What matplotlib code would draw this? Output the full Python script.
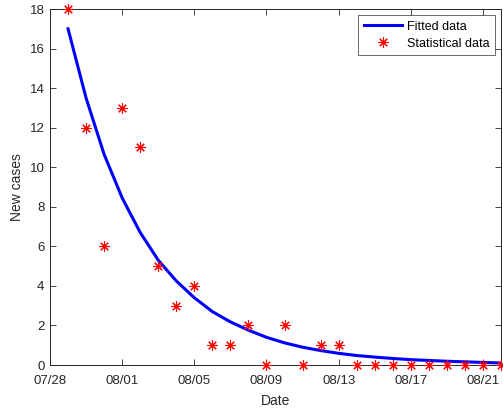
import numpy as np
import matplotlib
matplotlib.use("Agg")
import matplotlib.pyplot as plt
import matplotlib.dates as mdates
import datetime as dt

# ---- data ----
start_date = dt.date(2020, 7, 29)
n_days = 25
dates = [start_date + dt.timedelta(days=i) for i in range(n_days)]
statistical = [18, 12, 6, 13, 11, 5, 3, 4, 1, 1, 2, 0, 2, 0, 1, 1,
               0, 0, 0, 0, 0, 0, 0, 0, 0]
fitted = [17.0, 13.5, 10.65, 8.45, 6.7, 5.3, 4.25, 3.4, 2.7, 2.18, 1.76,
          1.4, 1.12, 0.9, 0.73, 0.59, 0.48, 0.4, 0.33, 0.27, 0.23, 0.19,
          0.16, 0.13, 0.1]
tick_dates = [dt.date(2020, 7, 28) + dt.timedelta(days=4 * k) for k in range(7)]
y_ticks = list(range(0, 19, 2))

plt.rcParams['font.family'] = ['Liberation Sans', 'DejaVu Sans']
axc = (0.15, 0.15, 0.15)

fig = plt.figure(figsize=(5.03, 4.15), dpi=100)
ax = fig.add_axes([50 / 503, 50 / 415, 451 / 503, 356 / 415])

ax.plot(dates, fitted, color=(0, 0, 1), lw=2.2, label='Fitted data', zorder=3)
ax.plot(dates, statistical, linestyle='none', marker=(8, 2, 0), markersize=7.5,
        markeredgewidth=0.8, color='red', label='Statistical data',
        clip_on=False, zorder=4)

ax.set_xlim(dt.date(2020, 7, 28), dt.date(2020, 8, 22))
ax.set_ylim(0, 18)
ax.set_xticks(tick_dates)
ax.xaxis.set_major_formatter(mdates.DateFormatter('%m/%d'))
ax.set_yticks(y_ticks)

ax.tick_params(direction='in', length=4, width=0.6, colors=axc,
               labelsize=9.5, top=True, right=True, labelcolor=axc)
ax.tick_params(axis='x', pad=7)
ax.tick_params(axis='y', pad=4)
for s in ax.spines.values():
    s.set_color(axc)
    s.set_linewidth(0.7)

ax.set_xlabel('Date', fontsize=10, color=axc, labelpad=5)
ax.set_ylabel('New cases', fontsize=10, color=axc, labelpad=4)

leg = ax.legend(loc='upper right', fontsize=9, frameon=True, fancybox=False,
                borderaxespad=0.5, handlelength=3.0, borderpad=0.45,
                labelspacing=0.4, handletextpad=0.4)
leg.get_frame().set_edgecolor(axc)
leg.get_frame().set_linewidth(0.6)

fig.savefig('out.png', dpi=100)
